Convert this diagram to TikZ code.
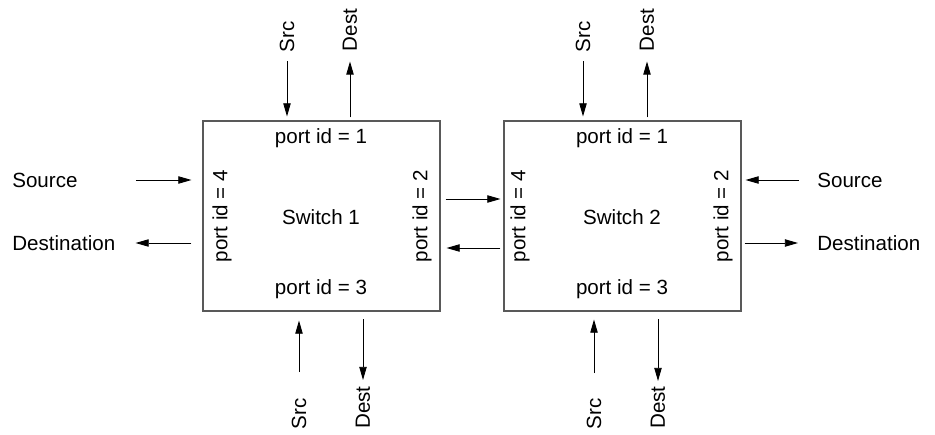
\documentclass[tikz,border=0pt]{standalone}
\usepackage{fontspec}
\setmainfont{Liberation Sans}
\usetikzlibrary{arrows.meta}

\begin{document}
\begin{tikzpicture}[scale = 1,
  font=\fontsize{11.7}{14}\selectfont,
  switch/.style={draw=black!65, line width=0.6pt, minimum width=4.74cm, minimum height=3.8cm, inner sep=0pt},
  lbl/.style={inner sep=0pt},
  vlbl/.style={inner sep=0pt, rotate=90},
  link/.style={-{Triangle[length=7.5pt,width=4.2pt]}, line width=0.5pt}]

  \useasboundingbox (0,0) rectangle (18.7,8.68);

  % draw switches
  \node[switch] (sw1) at (6.43,4.36) {};
  \node[switch] (sw2) at (12.45,4.36) {};

  % label switches and ports
  \node[lbl] (name1) at (6.42,4.34) {Switch 1};
  \node[lbl] (sw1p1) at (6.42,5.92) {port id = 1};
  \node[vlbl] (sw1p2) at (8.44,4.36) {port id = 2};
  \node[lbl] (sw1p3) at (6.42,2.90) {port id = 3};
  \node[vlbl] (sw1p4) at (4.44,4.36) {port id = 4};
  \node[lbl] (name2) at (12.44,4.34) {Switch 2};
  \node[lbl] (sw2p1) at (12.44,5.92) {port id = 1};
  \node[vlbl] (sw2p2) at (14.46,4.36) {port id = 2};
  \node[lbl] (sw2p3) at (12.44,2.90) {port id = 3};
  \node[vlbl] (sw2p4) at (10.40,4.36) {port id = 4};

  % outer labels
  \node[vlbl] (srcT1) at (5.74,7.94) {Src};
  \node[vlbl] (dstT1) at (7.00,8.08) {Dest};
  \node[vlbl] (srcB1) at (5.98,0.40) {Src};
  \node[vlbl] (dstB1) at (7.26,0.53) {Dest};
  \node[lbl, anchor=west] (srcL1) at (0.24,5.08) {Source};
  \node[lbl, anchor=west] (dstL1) at (0.24,3.82) {Destination};
  \node[vlbl] (srcT2) at (11.66,7.94) {Src};
  \node[vlbl] (dstT2) at (12.94,8.08) {Dest};
  \node[vlbl] (srcB2) at (11.88,0.40) {Src};
  \node[vlbl] (dstB2) at (13.16,0.53) {Dest};
  \node[lbl, anchor=west] (srcR2) at (16.34,5.08) {Source};
  \node[lbl, anchor=west] (dstR2) at (16.34,3.82) {Destination};

  % arrows of switch 1
  \draw[link, shorten <=0.17cm, shorten >=0.08cm] (srcT1) -- (srcT1 |- sw1.north);
  \draw[link, shorten <=0.06cm, shorten >=0.2cm] (sw1.north -| dstT1) -- (dstT1);
  \draw[link, shorten <=0.52cm, shorten >=0.18cm] (srcB1) -- (srcB1 |- sw1.south);
  \draw[link, shorten <=0.15cm, shorten >=0.12cm] (sw1.south -| dstB1) -- (dstB1);
  \draw[link, shorten <=1.16cm, shorten >=0.22cm] (srcL1) -- (srcL1 -| sw1.west);
  \draw[link, shorten <=0.22cm, shorten >=0.4cm] (sw1.west |- dstL1) -- (dstL1);

  % arrows between the switches
  \draw[link, shorten <=0.1cm, shorten >=0.06cm] ([yshift=0.34cm]sw1.east) -- ([yshift=0.34cm]sw2.west);
  \draw[link, shorten <=0.06cm, shorten >=0.12cm] ([yshift=-0.64cm]sw2.west) -- ([yshift=-0.64cm]sw1.east);

  % arrows of switch 2
  \draw[link, shorten <=0.17cm, shorten >=0.08cm] (srcT2) -- (srcT2 |- sw2.north);
  \draw[link, shorten <=0.06cm, shorten >=0.2cm] (sw2.north -| dstT2) -- (dstT2);
  \draw[link, shorten <=0.5cm, shorten >=0.16cm] (srcB2) -- (srcB2 |- sw2.south);
  \draw[link, shorten <=0.15cm, shorten >=0.1cm] (sw2.south -| dstB2) -- (dstB2);
  \draw[link, shorten <=0.36cm, shorten >=0.08cm] (srcR2) -- (srcR2 -| sw2.east);
  \draw[link, shorten <=0.06cm, shorten >=0.38cm] (sw2.east |- dstR2) -- (dstR2);
\end{tikzpicture}
\end{document}
